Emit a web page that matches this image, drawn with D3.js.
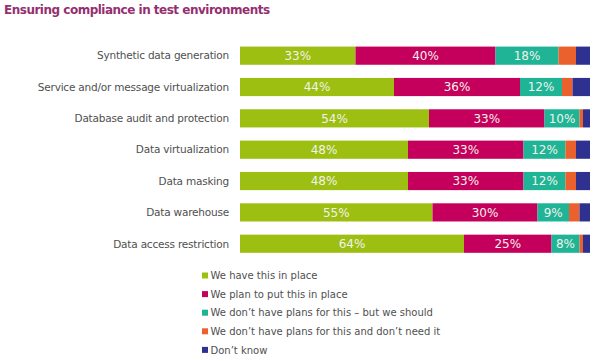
<!DOCTYPE html>
<html>
<head>
<meta charset="utf-8">
<script src="https://cdn.jsdelivr.net/npm/d3@7"></script>
<style>
  body { margin: 0; background: #fff; }
  text { font-family: "DejaVu Sans", Verdana, sans-serif; }
</style>
</head>
<body>
<div id="chart"></div>
<script>
const categories = [
    'Synthetic data generation',
    'Service and/or message virtualization',
    'Database audit and protection',
    'Data virtualization',
    'Data masking',
    'Data warehouse',
    'Data access restriction'
];

const seriesNames = [
    'We have this in place',
    'We plan to put this in place',
    'We don\u2019t have plans for this \u2013 but we should',
    'We don\u2019t have plans for this and don\u2019t need it',
    'Don\u2019t know'
];

const haveIt    = [33, 44, 54, 48, 48, 55, 64];
const planIt    = [40, 36, 33, 33, 33, 30, 25];
const shouldIt  = [18, 12, 10, 12, 12, 9, 8];
const noNeed    = [5, 3, 1, 3, 3, 3, 1];
const dontKnow  = [4, 5, 2, 4, 4, 3, 2];

const colors = ['#9cbf12', '#c5005c', '#1fb496', '#ea612e', '#2f3190'];

const allSeries = [haveIt, planIt, shouldIt, noNeed, dontKnow];

// build rows for stack
const rows = categories.map((c, i) => {
    const r = {cat: c};
    seriesNames.forEach((s, j) => { r[s] = allSeries[j][i]; });
    return r;
});

const svg = d3.select('#chart')
    .append('svg')
    .attr('width', 597)
    .attr('height', 361);

svg.append('text')
    .attr('x', 4)
    .attr('y', 14)
    .style('font-size', '12px')
    .style('font-weight', 'bold')
    .style('letter-spacing', '-0.5px')
    .style('fill', '#952f70')
    .text('Ensuring compliance in test environments');

const x = d3.scaleLinear().domain([0, 100]).range([240, 590]);
const y = d3.scaleBand().domain(categories).range([40, 259.4])
    .paddingInner(0.42).paddingOuter(0.21);

const stack = d3.stack().keys(seriesNames)(rows);

const groups = svg.selectAll('.series')
    .data(stack)
    .enter().append('g')
    .attr('class', 'series')
    .style('fill', (d, i) => colors[i]);

groups.selectAll('rect')
    .data(d => d)
    .enter().append('rect')
    .attr('x', d => x(d[0]))
    .attr('y', d => y(d.data.cat))
    .attr('width', d => x(d[1]) - x(d[0]))
    .attr('height', y.bandwidth());

groups.selectAll('.val')
    .data(d => d.map(p => ({p: p, v: p[1] - p[0]})))
    .enter().append('text')
    .attr('class', 'val')
    .filter(d => d.v >= 8)
    .attr('x', d => (x(d.p[0]) + x(d.p[1])) / 2)
    .attr('y', d => y(d.p.data.cat) + y.bandwidth() / 2)
    .attr('dy', '0.36em')
    .attr('text-anchor', 'middle')
    .style('font-size', '12px')
    .style('fill', '#f2f2ea')
    .text(d => d.v + '%');

svg.selectAll('.cat')
    .data(categories)
    .enter().append('text')
    .attr('class', 'cat')
    .attr('x', 229)
    .attr('y', d => y(d) + y.bandwidth() / 2)
    .attr('dy', '0.36em')
    .attr('text-anchor', 'end')
    .style('font-size', '10.5px')
    .style('letter-spacing', '-0.2px')
    .style('fill', '#505050')
    .text(d => d);

// legend
const legend = svg.selectAll('.legend')
    .data(seriesNames)
    .enter().append('g')
    .attr('class', 'legend')
    .attr('transform', (d, i) => `translate(202, ${275.5 + i * 18.6})`);

legend.append('rect')
    .attr('x', 0)
    .attr('y', -3)
    .attr('width', 6)
    .attr('height', 6)
    .style('fill', (d, i) => colors[i]);

legend.append('text')
    .attr('x', 8.5)
    .attr('dy', '0.36em')
    .style('font-size', '10px')
    .style('fill', '#505050')
    .text(d => d);
</script>
</body>
</html>
